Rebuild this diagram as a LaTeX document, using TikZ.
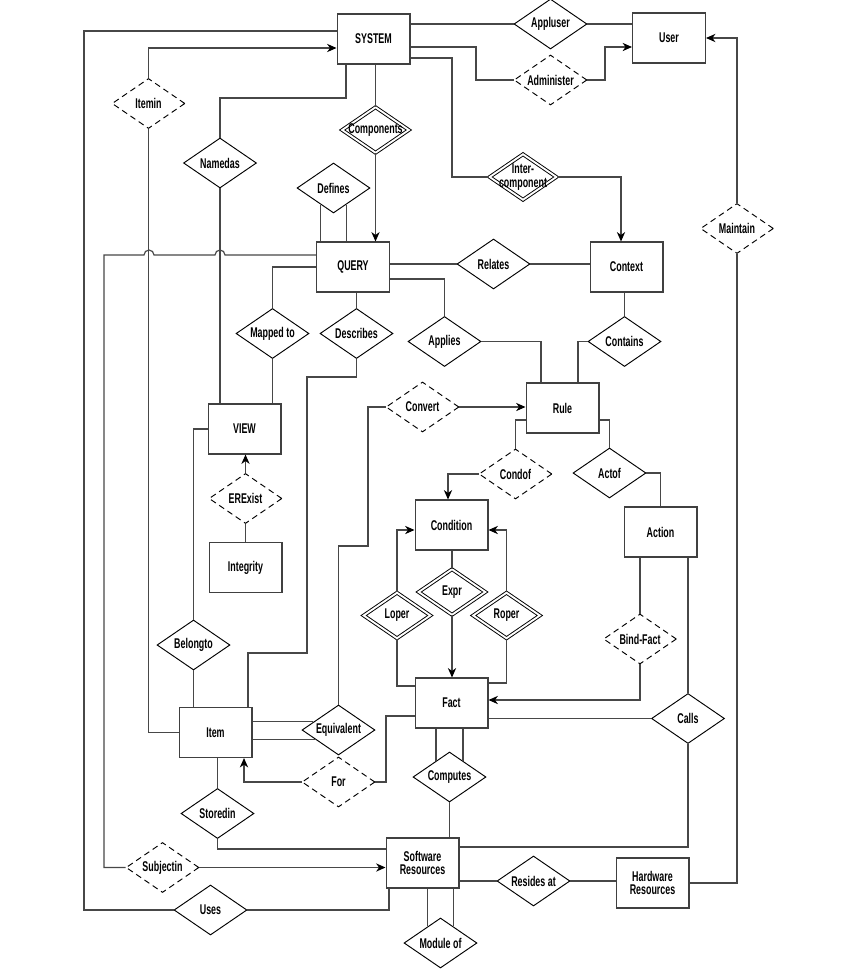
\documentclass[tikz,border=0pt]{standalone}
\usepackage{fontspec}
\setmainfont{Liberation Sans}[FakeStretch=0.63]
\usetikzlibrary{positioning,arrows.meta,shapes.geometric}

\begin{document}
\begin{tikzpicture}[x=0.85pt, y=-0.85pt,
    every node/.style={font=\fontsize{12}{11.5}\selectfont\bfseries, align=center},
    ent/.style={draw=black!75, line width=0.9pt, minimum width=62pt, minimum height=42.5pt, inner sep=0pt},
    rel/.style={diamond, draw, line width=0.8pt, aspect=1.46, inner sep=0pt, minimum width=62pt, minimum height=42.5pt},
    dashrel/.style={rel, dash pattern=on 5pt off 3.5pt},
    dblrel/.style={rel, double, double distance=1.6pt, minimum width=57pt, minimum height=39pt},
    conn/.style={draw=black!72, line width=1pt},
    arr/.style={-{Stealth[length=8pt, width=7pt, inset=2.5pt, color=black]}}]
  \useasboundingbox (0,0) rectangle (840,969);

  % entities
  \node[ent] (sys) at (373.5,39) {SYSTEM};
  \node[ent] (user) at (669,38) {User};
  \node[ent] (query) at (353,267) {QUERY};
  \node[ent] (context) at (626.5,267) {Context};
  \node[ent] (view) at (244.5,429) {VIEW};
  \node[ent] (rule) at (562.5,408) {Rule};
  \node[ent] (cond) at (451.5,525) {Condition};
  \node[ent] (action) at (660.5,532) {Action};
  \node[ent] (integ) at (245.5,567.5) {Integrity};
  \node[ent] (fact) at (451.5,703) {Fact};
  \node[ent] (item) at (215.5,732.5) {Item};
  \node[ent] (soft) at (422.5,863) {Software\\Resources};
  \node[ent] (hard) at (652.5,883) {Hardware\\Resources};

  % relationships
  \node[rel] (appl) at (550.5,24) {Appluser};
  \node[dashrel] (admin) at (550.5,80) {Administer};
  \node[dashrel] (itemin) at (148.5,103.5) {Itemin};
  \node[rel] (named) at (220,163) {Namedas};
  \node[dblrel, inner sep=-3pt] (comp) at (375.5,130) {Components};
  \node[rel] (defines) at (333.5,188) {Defines};
  \node[dblrel, inner sep=-6pt] (inter) at (523,177) {Inter-\\component};
  \node[dashrel] (maint) at (737,228.5) {Maintain};
  \node[rel] (relates) at (493.5,264) {Relates};
  \node[rel] (applies) at (444.5,341.5) {Applies};
  \node[rel] (contains) at (624.5,341.5) {Contains};
  \node[rel] (mapped) at (272.5,333.5) {Mapped to};
  \node[rel] (describes) at (356.5,333.5) {Describes};
  \node[dashrel] (convert) at (422.5,407) {Convert};
  \node[dashrel] (condof) at (515.5,474) {Condof};
  \node[rel] (actof) at (609.5,473) {Actof};
  \node[dashrel] (erexist) at (245.5,498.5) {ERExist};
  \node[dblrel] (expr) at (452,592) {Expr};
  \node[dblrel] (loper) at (397,615.5) {Loper};
  \node[dblrel] (roper) at (506.5,615.5) {Roper};
  \node[dashrel] (bind) at (640,639) {Bind-Fact};
  \node[rel] (belong) at (193.5,645) {Belongto};
  \node[rel] (equiv) at (338.5,730) {Equivalent};
  \node[rel] (calls) at (688,718.5) {Calls};
  \node[dashrel] (forr) at (338.5,782) {For};
  \node[rel] (computes) at (449.5,777) {Computes};
  \node[rel] (stored) at (217.5,813.5) {Storedin};
  \node[dashrel] (subj) at (162.5,867.5) {Subjectin};
  \node[rel] (uses) at (210.5,910) {Uses};
  \node[rel] (resides) at (533.5,881) {Resides at};
  \node[rel] (module) at (440.5,943) {Module of};

  % SYSTEM links
  \draw[conn] (sys.west |- 0,31) -| (84,910) -- (uses.west);
  \draw[conn] (uses.east) -| (soft.south -| 389,0);
  \draw[conn, arr] (itemin.north) |- (sys.west |- 0,48);
  \draw[conn] (itemin.south) |- (item.west);
  \draw[conn] (sys.south -| 346,0) |- (220,98) -- (named.north);
  \draw[conn] (named.south) -- (view.north -| named.south);
  \draw[conn] (sys.south -| comp) -- (comp.north);
  \draw[conn, arr] (comp.south) -- (query.north -| comp.south);
  \draw[conn] (defines.-127) -- (defines.-127 |- query.north);
  \draw[conn] (defines.-53) -- (defines.-53 |- query.north);
  \draw[conn] (sys.east |- appl.west) -- (appl.west);
  \draw[conn] (appl.east) -- (user.west |- appl.east);
  \draw[conn] (sys.east |- 0,47) -| (476,80) -- (admin.west);
  \draw[conn, arr] (admin.east) -| (605,47) -- (user.west |- 0,47);
  \draw[conn] (sys.east |- 0,58) -| (452,177) -- (inter.west);
  \draw[conn, arr] (inter.east) -| (context.north -| 621,0);
  \draw[conn] (hard.east) -| (maint.south);
  \draw[conn, arr] (maint.north) |- (user.east);

  % QUERY links
  \draw[conn] (query.west |- 0,255) -- (225,255) arc[start angle=0, end angle=-180, radius=5]
    -- (154,255) arc[start angle=0, end angle=-180, radius=5] -- (104,255) |- (subj.west);
  \draw[conn, arr] (subj.east) -- (soft.west |- subj.east);
  \draw[conn] (query.west) -| (mapped.north);
  \draw[conn] (mapped.south) -- (view.north -| mapped.south);
  \draw[conn] (query.south -| describes) -- (describes.north);
  \draw[conn] (describes.south) |- (307,377) |- (248,653) -- (item.north -| 248,0);
  \draw[conn] (query.east |- relates.west) -- (relates.west);
  \draw[conn] (relates.east) -- (context.west |- relates.east);
  \draw[conn] (query.east |- 0,279) -| (applies.north);
  \draw[conn] (applies.east) -| (rule.north -| 541,0);
  \draw[conn] (context.south -| contains) -- (contains.north);
  \draw[conn] (contains.west) -| (rule.north -| 578,0);

  % VIEW links
  \draw[conn] (integ.north) -- (erexist.south);
  \draw[conn, arr] (erexist.north) -- (view.south -| erexist.north);
  \draw[conn] (view.west) -| (belong.north);
  \draw[conn] (belong.south) -- (item.north -| belong.south);

  % Rule links
  \draw[conn, arr] (convert.east) -- (rule.west |- convert.east);
  \draw[conn] (convert.west) -| (368,546) -| (equiv.north);
  \draw[conn] (rule.west |- 0,420) -| (condof.north);
  \draw[conn, arr] (condof.west) -| (cond.north -| 448,0);
  \draw[conn] (rule.east |- 0,420) -| (actof.north);
  \draw[conn] (actof.east) -| (action.north);

  % Condition / Fact links
  \draw[conn] (cond.south -| expr) -- (expr.north);
  \draw[conn, arr] (expr.south) -- (fact.north -| expr.south);
  \draw[conn, arr] (loper.north) |- (cond.west |- 0,530);
  \draw[conn] (loper.south) |- (fact.west |- 0,686);
  \draw[conn, arr] (roper.north) |- (cond.east |- 0,530);
  \draw[conn] (roper.south) |- (fact.east |- 0,683);
  \draw[conn] (action.south -| bind) -- (bind.north);
  \draw[conn, arr] (bind.south) |- (fact.east |- 0,700);
  \draw[conn] (action.south -| calls) -- (calls.north);
  \draw[conn] (calls.west) -- (fact.east |- calls.west);
  \draw[conn] (calls.south) |- (soft.east |- 0,847);
  \draw[conn] (fact.west |- 0,716) -| (386,782) -- (forr.east);
  \draw[conn, arr] (forr.west) -| (item.south -| 244,0);
  \draw[conn] (computes.130) -- (computes.130 |- fact.south);
  \draw[conn] (computes.50) -- (computes.50 |- fact.south);
  \draw[conn] (computes.south) -- (soft.north -| computes.south);

  % Item / Software links
  \draw[conn] (item.east |- equiv.162) -- (equiv.162);
  \draw[conn] (item.east |- equiv.-159) -- (equiv.-159);
  \draw[conn] (item.south -| stored) -- (stored.north);
  \draw[conn] (stored.south) |- (soft.west |- 0,849);
  \draw[conn] (soft.east |- resides.west) -- (resides.west);
  \draw[conn] (resides.east) -- (hard.west |- resides.east);
  \draw[conn] (module.127) -- (module.127 |- soft.south);
  \draw[conn] (module.53) -- (module.53 |- soft.south);
\end{tikzpicture}
\end{document}
